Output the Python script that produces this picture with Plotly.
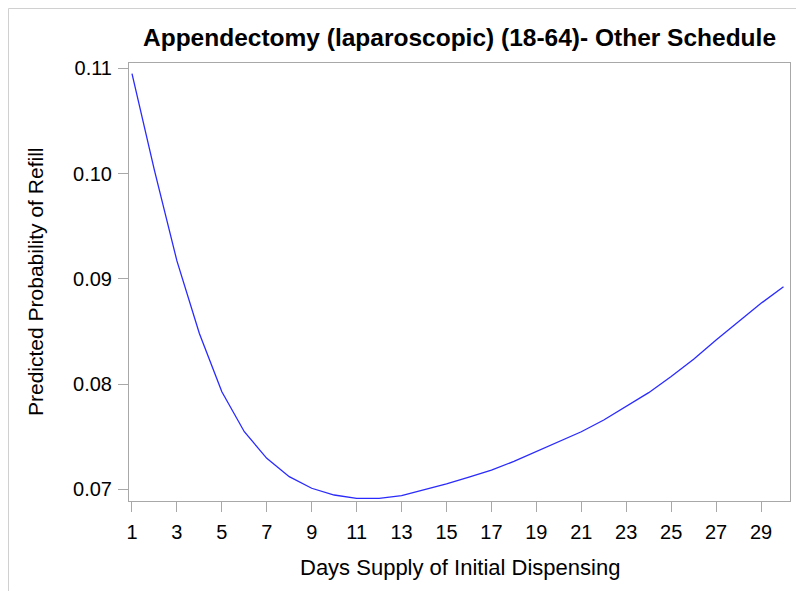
import plotly.graph_objects as go

days = list(range(1, 31))
prob = [0.10950, 0.10030, 0.09170, 0.08480, 0.07927, 0.07547, 0.07294, 0.07120,
        0.07010, 0.06946, 0.06914, 0.06914, 0.06940, 0.06993, 0.07052, 0.07115,
        0.07183, 0.07265, 0.07357, 0.07450, 0.07547, 0.07658, 0.07785, 0.07918,
        0.08072, 0.08235, 0.08419, 0.08593, 0.08767, 0.08925]

x_ticks = list(range(1, 30, 2))
y_ticks = [0.07, 0.08, 0.09, 0.10, 0.11]
y_tick_text = ["0.07", "0.08", "0.09", "0.10", "0.11"]

title_text = "Appendectomy (laparoscopic) (18-64)- Other Schedule"
x_title = "Days Supply of Initial Dispensing"
y_title = "Predicted Probability of Refill"

FONT = "Liberation Sans, Arial, sans-serif"
AX = "#a8a8a8"

# page is offset by the 8px body margin
W, H = 796, 583
L, R, T, B = 121, 14, 55, 90
pw, ph = W - L - R, H - T - B

fig = go.Figure()
fig.add_trace(go.Scatter(x=days, y=prob, mode="lines",
                         line=dict(color="#2a2aff", width=1.3),
                         showlegend=False, hoverinfo="x+y"))

fig.update_layout(
    width=W, height=H,
    margin=dict(l=L, r=R, t=T, b=B, pad=0),
    paper_bgcolor="white", plot_bgcolor="white",
    font=dict(family=FONT, color="black"),
    title=dict(text="<b>" + title_text + "</b>", x=0.5, xref="paper",
               y=1 - 29 / H, yref="container", xanchor="center", yanchor="middle",
               font=dict(size=24.5, family=FONT, color="black")),
    xaxis=dict(range=[0.867, 30.29], tickmode="array", tickvals=x_ticks,
               showgrid=False, zeroline=False, showline=True, linecolor=AX,
               linewidth=1, mirror=True, ticks="outside", ticklen=10,
               tickcolor=AX, tickfont=dict(size=20, family=FONT),
               ticklabelstandoff=3),
    yaxis=dict(range=[0.06889, 0.1105], tickmode="array", tickvals=y_ticks,
               ticktext=y_tick_text,
               showgrid=False, zeroline=False, showline=True, linecolor=AX,
               linewidth=1, mirror=True, ticks="outside", ticklen=10,
               tickcolor=AX, tickfont=dict(size=20, family=FONT),
               ticklabelstandoff=2),
    annotations=[
        dict(text=x_title, xref="paper", yref="paper", x=0.5, y=0,
             xanchor="center", yanchor="middle", yshift=-66, showarrow=False,
             font=dict(size=22, family=FONT, color="black")),
        dict(text=y_title, xref="paper", yref="paper", x=0, y=0.5,
             xanchor="center", yanchor="middle", xshift=-94, textangle=-90,
             showarrow=False, font=dict(size=21, family=FONT, color="black")),
    ],
    shapes=[dict(type="rect", xref="paper", yref="paper",
                 x0=(0.5 - L) / pw, x1=(W + 10 - L) / pw,
                 y0=(H - B - (H + 10)) / ph, y1=(H - B - 0.5) / ph,
                 line=dict(color="#d0d0d0", width=1), fillcolor="rgba(0,0,0,0)",
                 layer="below")],
)

fig.write_html("out.html")
